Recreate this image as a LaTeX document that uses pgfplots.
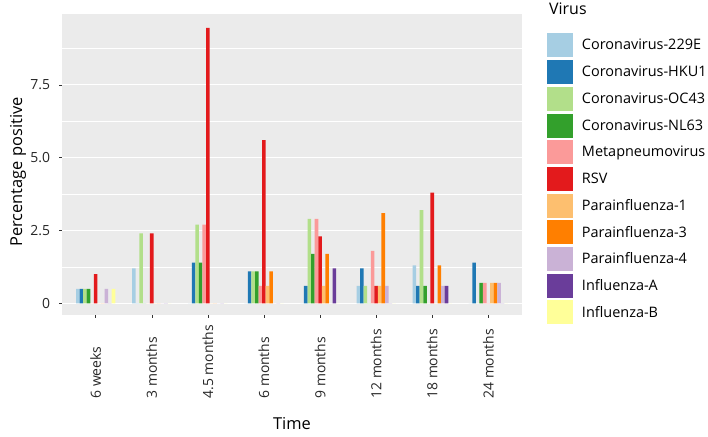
\documentclass[border=0pt]{standalone}
\usepackage{fontspec}
\setmainfont{Open Sans}
\usepackage{pgfplots}
\usepackage{pgfplotstable}
\pgfplotsset{compat=1.18}

\definecolor{c1}{HTML}{A6CEE3}
\definecolor{c2}{HTML}{1F78B4}
\definecolor{c3}{HTML}{B2DF8A}
\definecolor{c4}{HTML}{33A02C}
\definecolor{c5}{HTML}{FB9A99}
\definecolor{c6}{HTML}{E31A1C}
\definecolor{c7}{HTML}{FDBF6F}
\definecolor{c8}{HTML}{FF7F00}
\definecolor{c9}{HTML}{CAB2D6}
\definecolor{c10}{HTML}{6A3D9A}
\definecolor{c11}{HTML}{FFFF99}
\definecolor{panelbg}{HTML}{EBEBEB}

\pgfplotstableread{
x   cA   cH   cO   cN   Meta RSV  P1   P3   P4   FluA FluB
0   0.5  0.5  0.5  0.5  0    1.0  0    0    0.5  0    0.5
1   1.2  0    2.4  0    0    2.4  0    0    0    0    0
2   0    1.4  2.7  1.4  2.7  9.45 0    0    0    0    0
3   0    1.1  1.1  1.1  0.6  5.6  0.6  1.1  0    0    0
4   0    0.6  2.9  1.7  2.9  2.3  0.6  1.7  0    1.2  0
5   0.6  1.2  0.6  0    1.8  0.6  0.6  3.1  0.6  0    0
6   1.3  0.6  3.2  0.6  0    3.8  0    1.3  0.6  0.6  0
7   0    1.4  0    0.7  0.7  0    0.7  0.7  0.7  0    0
}\datatable

\pgfplotsset{
  vb/.style={fill=#1, draw=none,
    legend image code/.code={\fill[##1] (0bp,-12bp) rectangle (26bp,12bp);}},
}

\begin{document}
\begin{tikzpicture}
\useasboundingbox (0,0) rectangle (708bp,437bp);
\begin{axis}[
  at={(62bp,122bp)}, anchor=south west,
  scale only axis, width=460bp, height=301bp,
  xmin=-0.6, xmax=7.6, ymin=-0.40, ymax=9.93,
  axis background/.style={fill=panelbg},
  axis lines*=left,
  axis line style={draw=none},
  ybar=0pt, bar width=0.063636,
  xtick={0,1,2,3,4,5,6,7},
  xticklabels={6 weeks,3 months,4.5 months,6 months,9 months,12 months,18 months,24 months},
  ytick={0,2.5,5,7.5}, yticklabels={0,2.5,5.0,7.5},
  minor ytick={1.25,3.75,6.25,8.75},
  ymajorgrids, yminorgrids,
  major grid style={white, line width=1.1bp},
  minor grid style={white, line width=0.55bp},
  tick align=outside, major tick length=2.75bp, minor tick length=0pt,
  every tick/.style={color=black!80, line width=0.5bp},
  tick label style={font=\fontsize{14}{16}\selectfont, color=black!85},
  yticklabel style={anchor=east, inner sep=0pt, xshift=-9bp},
  xticklabel style={yshift=-81bp, rotate=90, anchor=west, inner sep=0pt},
  every axis y label/.style={at={(rel axis cs:0,0.475)}, xshift=-44bp, rotate=90, anchor=center, font=\fontsize{16.5}{18}\selectfont},
  every axis x label/.style={at={(rel axis cs:0.5,0)}, yshift=-109bp, anchor=center, font=\fontsize{16.5}{18}\selectfont},
  ylabel={Percentage positive}, xlabel={Time},
  legend cell align=left,
  legend style={at={(axis description cs:1.0543,0.940)}, anchor=north west,
    draw=none, fill=none, inner sep=0pt, outer sep=0pt, row sep=0pt, column sep=9bp,
    font=\fontsize{14.5}{16}\selectfont,
    nodes={inner sep=0pt, minimum height=26.7bp}},
]
\addplot[vb=c1,  bar shift=-0.31818] table[x=x,y=cA]{\datatable};
\addplot[vb=c2,  bar shift=-0.25455] table[x=x,y=cH]{\datatable};
\addplot[vb=c3,  bar shift=-0.19091] table[x=x,y=cO]{\datatable};
\addplot[vb=c4,  bar shift=-0.12727] table[x=x,y=cN]{\datatable};
\addplot[vb=c5,  bar shift=-0.06364] table[x=x,y=Meta]{\datatable};
\addplot[vb=c6,  bar shift=0] table[x=x,y=RSV]{\datatable};
\addplot[vb=c7,  bar shift=0.06364] table[x=x,y=P1]{\datatable};
\addplot[vb=c8,  bar shift=0.12727] table[x=x,y=P3]{\datatable};
\addplot[vb=c9,  bar shift=0.19091] table[x=x,y=P4]{\datatable};
\addplot[vb=c10, bar shift=0.25455] table[x=x,y=FluA]{\datatable};
\addplot[vb=c11, bar shift=0.31818] table[x=x,y=FluB]{\datatable};
\legend{Coronavirus-229E,Coronavirus-HKU1,Coronavirus-OC43,Coronavirus-NL63,Metapneumovirus,RSV,Parainfluenza-1,Parainfluenza-3,Parainfluenza-4,Influenza-A,Influenza-B}
\end{axis}
\node[anchor=base west, inner sep=0pt, font=\fontsize{16}{18}\selectfont] at (549bp,422bp) {Virus};
\end{tikzpicture}
\end{document}
